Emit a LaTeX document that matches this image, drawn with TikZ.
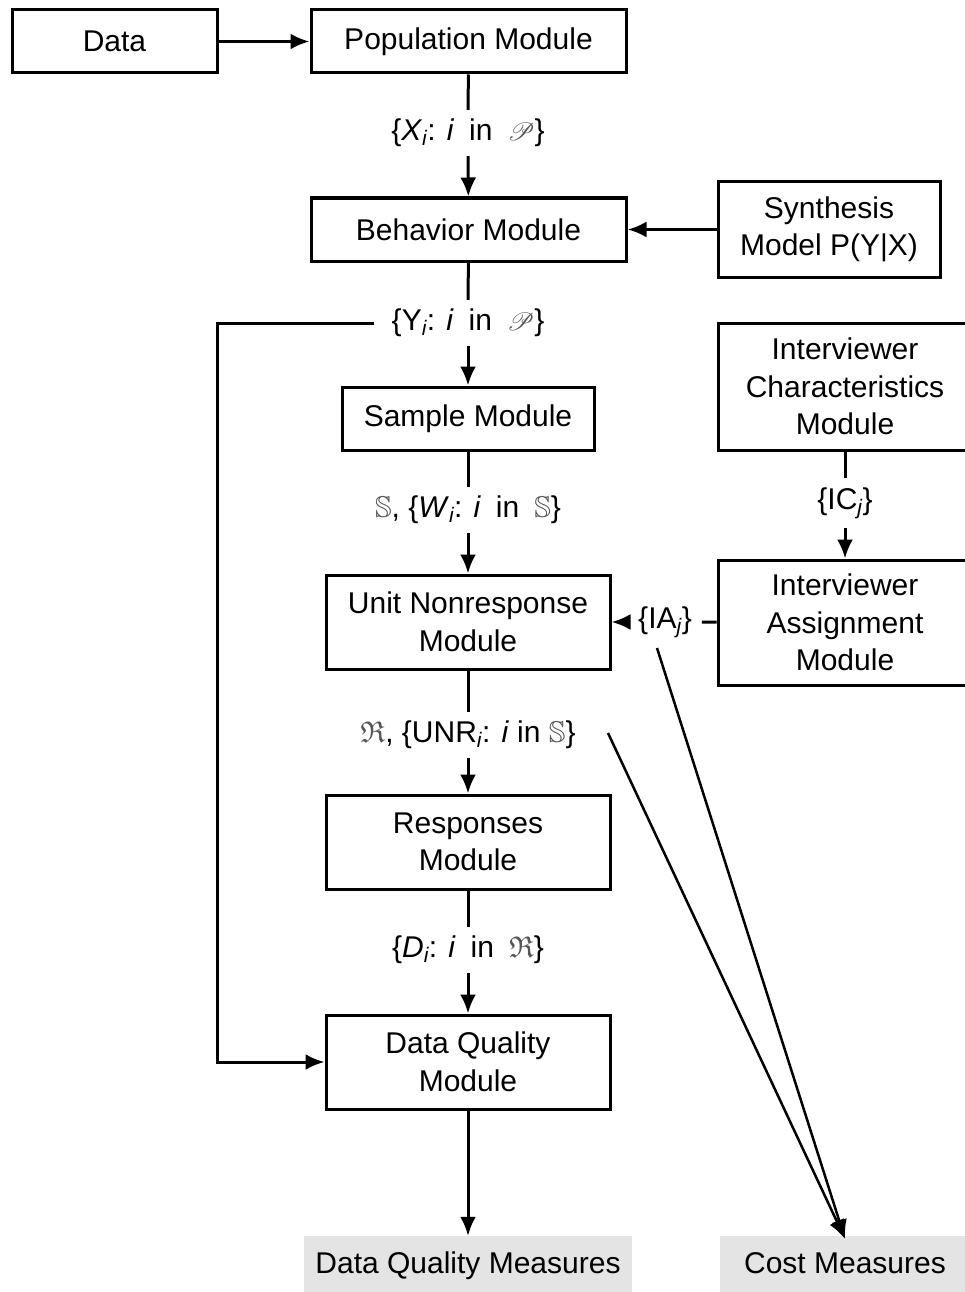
\documentclass[tikz,border=0pt]{standalone}
\usepackage{fontspec}
\setmainfont{Liberation Sans}
\usepackage{amssymb}
\usepackage{mathrsfs}
\usetikzlibrary{arrows.meta}
\definecolor{measgray}{HTML}{E4E4E4}
\definecolor{symgray}{HTML}{555555}
\newcommand{\setP}{\textcolor{symgray}{$\mathscr{P}$}}
\newcommand{\setS}{\textcolor{symgray}{$\mathbb{S}$}}
\newcommand{\setR}{\textcolor{symgray}{$\mathfrak{R}$}}
\newcommand{\sbi}[1]{\raisebox{-5pt}{\fontsize{21}{21}\selectfont\textit{#1}}}
\begin{document}
\begin{tikzpicture}[x=1pt,y=-1pt,
  every node/.style={font=\fontsize{30}{37.5}\selectfont},
  box/.style={draw, line width=3pt, inner sep=0pt, align=center},
  lbl/.style={inner sep=4pt, align=center},
  meas/.style={fill=measgray, inner sep=0pt, minimum height=56pt, text height=22pt, text depth=3pt},
  conn/.style={line width=3pt},
  arr/.style={line width=3pt, -{Latex[length=19pt,width=16pt]}}]
\useasboundingbox (0,0) rectangle (964,1292);
% boxes
\node[box, minimum width=205pt, minimum height=63pt] (data) at (114.5,41.5) {Data};
\node[box, minimum width=315pt, minimum height=63pt] (pop) at (468.5,41.5) {Population Module};
\node[box, minimum width=315pt, minimum height=63pt] (beh) at (468.5,229.5) {Behavior Module};
\node[box, minimum width=222pt, minimum height=95pt] (syn) at (829,229.5) {Synthesis\\Model P(Y|X)};
\node[box, minimum width=252pt, minimum height=63pt] (samp) at (468,418.5) {Sample Module};
\node[box, minimum width=254pt, minimum height=127pt] (ic) at (845,386.5) {Interviewer\\Characteristics\\Module};
\node[box, minimum width=254pt, minimum height=125pt] (ia) at (845,622.5) {Interviewer\\Assignment\\Module};
\node[box, minimum width=284pt, minimum height=94pt] (unr) at (468,622) {Unit Nonresponse\\Module};
\node[box, minimum width=284pt, minimum height=94pt] (resp) at (468,842) {Responses\\Module};
\node[box, minimum width=284pt, minimum height=94pt] (dq) at (468,1062) {Data Quality\\Module};
\node[meas, minimum width=328pt] (dqm) at (468,1264) {Data Quality Measures};
\node[meas, minimum width=250pt] (cm) at (845,1264) {Cost Measures};
% labels
\node[lbl, inner ysep=9pt] (lx) at (468,133) {\{\textit{X}\sbi{i}: \textit{i}\,\,\,in\,\,\,\setP\}};
\node[lbl, inner ysep=9pt, inner xsep=18pt] (ly) at (468,323) {\{Y\sbi{i}: \textit{i}\,\,\,in\,\,\,\setP\}};
\node[lbl, inner ysep=9pt] (lw) at (468,510) {\setS, \{\textit{W}\sbi{i}: \textit{i}\,\,\,in\,\,\,\setS\}};
\node[lbl, inner ysep=9pt] (lic) at (845,503) {\{IC\sbi{j}\}};
\node[lbl, inner xsep=10pt] (lia) at (665,622) {\{IA\sbi{j}\}};
\node[lbl, inner ysep=9pt] (lunr) at (468,735) {\setR, \{UNR\sbi{i}: \textit{i} in \setS\}};
\node[lbl, inner ysep=9pt] (ld) at (468,950) {\{\textit{D}\sbi{i}: \textit{i}\,\,\,in\,\,\,\setR\}};
% connectors
\draw[arr] (data) -- (pop);
\draw[conn] (pop) -- (lx);
\draw[arr] (lx) -- (beh);
\draw[arr] (syn) -- (beh);
\draw[conn] (beh) -- (ly);
\draw[arr] (ly) -- (samp);
\coordinate (bend) at (217,323);
\draw[arr] (ly.west) -- (bend) |- (dq.west);
\draw[conn] (samp) -- (lw);
\draw[arr] (lw) -- (unr);
\draw[conn] (ic) -- (lic);
\draw[arr] (lic) -- (ia);
\draw[conn] (ia) -- (lia);
\draw[arr] (lia) -- (unr);
\draw[conn] (unr) -- (lunr);
\draw[arr] (lunr) -- (resp);
\draw[conn] (resp) -- (ld);
\draw[arr] (ld) -- (dq);
\draw[arr] (dq) -- (dqm);
\coordinate (c1) at (657,648);
\coordinate (c2) at (608,733);
\draw[arr, line width=2.5pt] (c1) -- ([yshift=-3pt]cm.north);
\draw[arr, line width=2.5pt] (c2) -- ([yshift=-3pt]cm.north);
\end{tikzpicture}
\end{document}
